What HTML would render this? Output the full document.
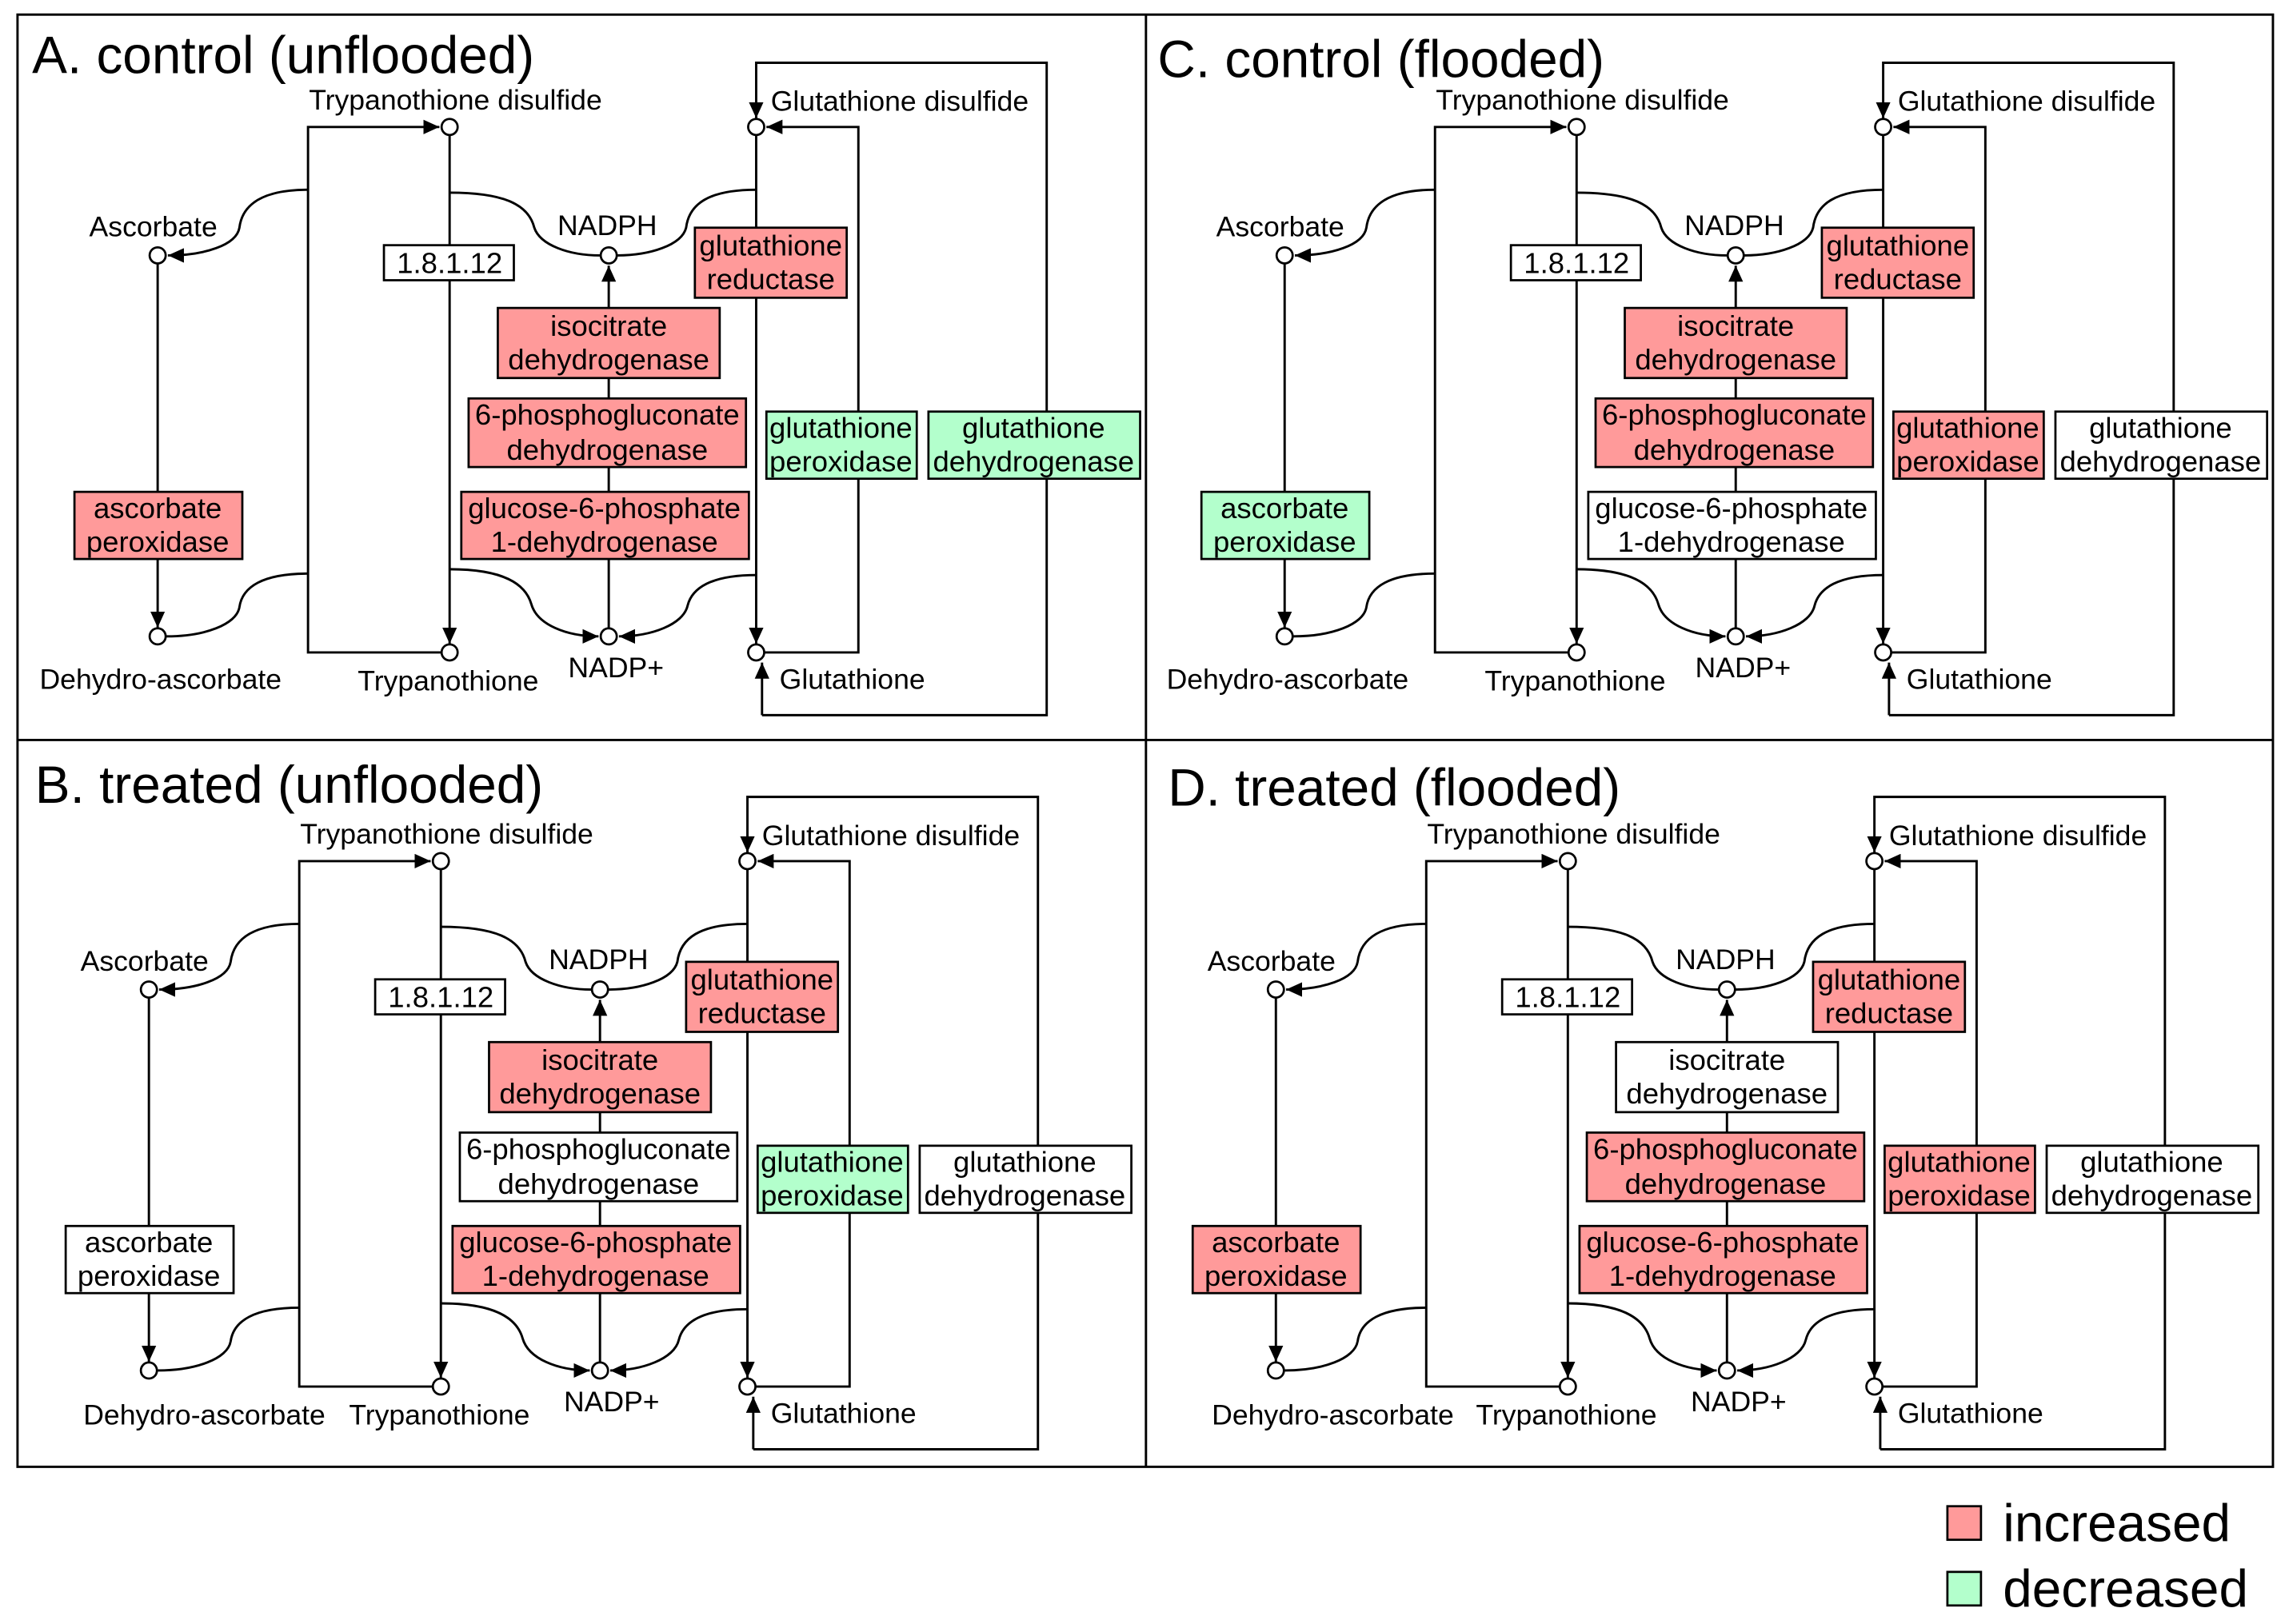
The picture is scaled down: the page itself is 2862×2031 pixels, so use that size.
<!DOCTYPE html>
<html><head><meta charset="utf-8"><style>
html,body{margin:0;padding:0;background:#fff;}
svg{display:block;}
text{font-family:"Liberation Sans",Arial,sans-serif;fill:#000;}
.l{font-size:19.5px;}
.b{font-size:20px;text-anchor:middle;}
.t{font-size:36px;}
.ln{fill:none;stroke:#000;stroke-width:1.6;}
.nd{fill:#fff;stroke:#000;stroke-width:1.5;}
.R{fill:#ff9a9a;stroke:#000;stroke-width:1.5;}
.G{fill:#b3ffcc;stroke:#000;stroke-width:1.5;}
.W{fill:#fff;stroke:#000;stroke-width:1.5;}
</style></head><body>
<svg width="2862" height="2031" viewBox="0 0 1568 1112.7" preserveAspectRatio="none" xmlns="http://www.w3.org/2000/svg">
<defs>
<marker id="a" markerUnits="userSpaceOnUse" markerWidth="12" markerHeight="10" refX="11" refY="5" orient="auto">
<path d="M0,0 L11,5 L0,10 Z" fill="#000"/></marker>
<g id="s">
<path class="ln" d="M302,447 L211,447 L211,87 L301,87" marker-end="url(#a)"/>
<path class="ln" d="M308,93 L308,441" marker-end="url(#a)"/>
<path class="ln" d="M108,181 L108,430" marker-end="url(#a)"/>
<path class="ln" d="M211,130 C180,130 166,140 164,156 C162,168 140,175 115,175" marker-end="url(#a)"/>
<path class="ln" d="M211,393 C180,393 166,402 164,416 C162,428 140,436 114,436"/>
<path class="ln" d="M308,132 C345,132 362,140 366,156 C370,168 390,175 411,175"/>
<path class="ln" d="M518,130 C485,130 472,140 470,156 C467,168 445,175 423,175"/>
<path class="ln" d="M417,430 L417,182" marker-end="url(#a)"/>
<path class="ln" d="M308,390 C345,390 360,400 364,414 C368,428 388,436 410,436" marker-end="url(#a)"/>
<path class="ln" d="M518,394 C487,394 474,403 471,415 C468,428 446,436 424,436" marker-end="url(#a)"/>
<path class="ln" d="M518,93 L518,441" marker-end="url(#a)"/>
<path class="ln" d="M524,447 L588,447 L588,87 L525,87" marker-end="url(#a)"/>
<path class="ln" d="M522,490 L717,490 L717,43 L518,43 L518,81" marker-end="url(#a)"/>
<path class="ln" d="M522,490 L522,454" marker-end="url(#a)"/>
<circle class="nd" cx="308" cy="87" r="5.5"/>
<circle class="nd" cx="308" cy="447" r="5.5"/>
<circle class="nd" cx="108" cy="175" r="5.5"/>
<circle class="nd" cx="108" cy="436" r="5.5"/>
<circle class="nd" cx="417" cy="175" r="5.5"/>
<circle class="nd" cx="417" cy="436" r="5.5"/>
<circle class="nd" cx="518" cy="87" r="5.5"/>
<circle class="nd" cx="518" cy="447" r="5.5"/>
<rect class="W" x="263" y="168" width="89" height="24"/>
</g>
</defs>
<rect x="12" y="10" width="1545" height="995" fill="none" stroke="#000" stroke-width="1.6"/>
<line x1="785" y1="10" x2="785" y2="1005" stroke="#000" stroke-width="1.6"/>
<line x1="12" y1="507" x2="1557" y2="507" stroke="#000" stroke-width="1.6"/>

<g transform="translate(0,0)">
<use href="#s"/>
<text class="t" x="22" y="50">A. control (unflooded)</text>
<text class="l" x="312" y="75" text-anchor="middle">Trypanothione disulfide</text>
<text class="l" x="528" y="76">Glutathione disulfide</text>
<text class="l" x="105" y="162" text-anchor="middle">Ascorbate</text>
<text class="l" x="416" y="161" text-anchor="middle">NADPH</text>
<text class="l" x="110" y="472" text-anchor="middle">Dehydro-ascorbate</text>
<text class="l" x="307" y="473" text-anchor="middle">Trypanothione</text>
<text class="l" x="422" y="464" text-anchor="middle">NADP+</text>
<text class="l" x="534" y="472">Glutathione</text>
<text class="b" x="308" y="187">1.8.1.12</text>
<rect class="R" x="476" y="156" width="104" height="48"/><text class="b" x="528" y="175">glutathione</text><text class="b" x="528" y="198">reductase</text>
<rect class="R" x="341" y="211" width="152" height="48"/><text class="b" x="417" y="230">isocitrate</text><text class="b" x="417" y="253">dehydrogenase</text>
<rect class="R" x="321" y="273" width="190" height="47"/><text class="b" x="416" y="291">6-phosphogluconate</text><text class="b" x="416" y="315">dehydrogenase</text>
<rect class="R" x="316" y="337" width="197" height="46"/><text class="b" x="414" y="355">glucose-6-phosphate</text><text class="b" x="414" y="378">1-dehydrogenase</text>
<rect class="R" x="51" y="337" width="115" height="46"/><text class="b" x="108" y="355">ascorbate</text><text class="b" x="108" y="378">peroxidase</text>
<rect class="G" x="525" y="282" width="103" height="46"/><text class="b" x="576" y="300">glutathione</text><text class="b" x="576" y="323">peroxidase</text>
<rect class="G" x="636" y="282" width="145" height="46"/><text class="b" x="708" y="300">glutathione</text><text class="b" x="708" y="323">dehydrogenase</text>
</g>

<g transform="translate(-6,503)">
<use href="#s"/>
<text class="t" x="30" y="47">B. treated (unflooded)</text>
<text class="l" x="312" y="75" text-anchor="middle">Trypanothione disulfide</text>
<text class="l" x="528" y="76">Glutathione disulfide</text>
<text class="l" x="105" y="162" text-anchor="middle">Ascorbate</text>
<text class="l" x="416" y="161" text-anchor="middle">NADPH</text>
<text class="l" x="146" y="473" text-anchor="middle">Dehydro-ascorbate</text>
<text class="l" x="307" y="473" text-anchor="middle">Trypanothione</text>
<text class="l" x="425" y="464" text-anchor="middle">NADP+</text>
<text class="l" x="534" y="472">Glutathione</text>
<text class="b" x="308" y="187">1.8.1.12</text>
<rect class="R" x="476" y="156" width="104" height="48"/><text class="b" x="528" y="175">glutathione</text><text class="b" x="528" y="198">reductase</text>
<rect class="R" x="341" y="211" width="152" height="48"/><text class="b" x="417" y="230">isocitrate</text><text class="b" x="417" y="253">dehydrogenase</text>
<rect class="W" x="321" y="273" width="190" height="47"/><text class="b" x="416" y="291">6-phosphogluconate</text><text class="b" x="416" y="315">dehydrogenase</text>
<rect class="R" x="316" y="337" width="197" height="46"/><text class="b" x="414" y="355">glucose-6-phosphate</text><text class="b" x="414" y="378">1-dehydrogenase</text>
<rect class="W" x="51" y="337" width="115" height="46"/><text class="b" x="108" y="355">ascorbate</text><text class="b" x="108" y="378">peroxidase</text>
<rect class="G" x="525" y="282" width="103" height="46"/><text class="b" x="576" y="300">glutathione</text><text class="b" x="576" y="323">peroxidase</text>
<rect class="W" x="636" y="282" width="145" height="46"/><text class="b" x="708" y="300">glutathione</text><text class="b" x="708" y="323">dehydrogenase</text>
</g>

<g transform="translate(772,0)">
<use href="#s"/>
<text class="t" x="21" y="53">C. control (flooded)</text>
<text class="l" x="312" y="75" text-anchor="middle">Trypanothione disulfide</text>
<text class="l" x="528" y="76">Glutathione disulfide</text>
<text class="l" x="105" y="162" text-anchor="middle">Ascorbate</text>
<text class="l" x="416" y="161" text-anchor="middle">NADPH</text>
<text class="l" x="110" y="472" text-anchor="middle">Dehydro-ascorbate</text>
<text class="l" x="307" y="473" text-anchor="middle">Trypanothione</text>
<text class="l" x="422" y="464" text-anchor="middle">NADP+</text>
<text class="l" x="534" y="472">Glutathione</text>
<text class="b" x="308" y="187">1.8.1.12</text>
<rect class="R" x="476" y="156" width="104" height="48"/><text class="b" x="528" y="175">glutathione</text><text class="b" x="528" y="198">reductase</text>
<rect class="R" x="341" y="211" width="152" height="48"/><text class="b" x="417" y="230">isocitrate</text><text class="b" x="417" y="253">dehydrogenase</text>
<rect class="R" x="321" y="273" width="190" height="47"/><text class="b" x="416" y="291">6-phosphogluconate</text><text class="b" x="416" y="315">dehydrogenase</text>
<rect class="W" x="316" y="337" width="197" height="46"/><text class="b" x="414" y="355">glucose-6-phosphate</text><text class="b" x="414" y="378">1-dehydrogenase</text>
<rect class="G" x="51" y="337" width="115" height="46"/><text class="b" x="108" y="355">ascorbate</text><text class="b" x="108" y="378">peroxidase</text>
<rect class="R" x="525" y="282" width="103" height="46"/><text class="b" x="576" y="300">glutathione</text><text class="b" x="576" y="323">peroxidase</text>
<rect class="W" x="636" y="282" width="145" height="46"/><text class="b" x="708" y="300">glutathione</text><text class="b" x="708" y="323">dehydrogenase</text>
</g>

<g transform="translate(766,503)">
<use href="#s"/>
<text class="t" x="34" y="49">D. treated (flooded)</text>
<text class="l" x="312" y="75" text-anchor="middle">Trypanothione disulfide</text>
<text class="l" x="528" y="76">Glutathione disulfide</text>
<text class="l" x="105" y="162" text-anchor="middle">Ascorbate</text>
<text class="l" x="416" y="161" text-anchor="middle">NADPH</text>
<text class="l" x="147" y="473" text-anchor="middle">Dehydro-ascorbate</text>
<text class="l" x="307" y="473" text-anchor="middle">Trypanothione</text>
<text class="l" x="425" y="464" text-anchor="middle">NADP+</text>
<text class="l" x="534" y="472">Glutathione</text>
<text class="b" x="308" y="187">1.8.1.12</text>
<rect class="R" x="476" y="156" width="104" height="48"/><text class="b" x="528" y="175">glutathione</text><text class="b" x="528" y="198">reductase</text>
<rect class="W" x="341" y="211" width="152" height="48"/><text class="b" x="417" y="230">isocitrate</text><text class="b" x="417" y="253">dehydrogenase</text>
<rect class="R" x="321" y="273" width="190" height="47"/><text class="b" x="416" y="291">6-phosphogluconate</text><text class="b" x="416" y="315">dehydrogenase</text>
<rect class="R" x="316" y="337" width="197" height="46"/><text class="b" x="414" y="355">glucose-6-phosphate</text><text class="b" x="414" y="378">1-dehydrogenase</text>
<rect class="R" x="51" y="337" width="115" height="46"/><text class="b" x="108" y="355">ascorbate</text><text class="b" x="108" y="378">peroxidase</text>
<rect class="R" x="525" y="282" width="103" height="46"/><text class="b" x="576" y="300">glutathione</text><text class="b" x="576" y="323">peroxidase</text>
<rect class="W" x="636" y="282" width="145" height="46"/><text class="b" x="708" y="300">glutathione</text><text class="b" x="708" y="323">dehydrogenase</text>
</g>

<rect class="R" x="1334" y="1032" width="23" height="23"/>
<text class="t" x="1372" y="1056">increased</text>
<rect class="G" x="1334" y="1077" width="23" height="23"/>
<text class="t" x="1372" y="1101">decreased</text>
</svg>
</body></html>
